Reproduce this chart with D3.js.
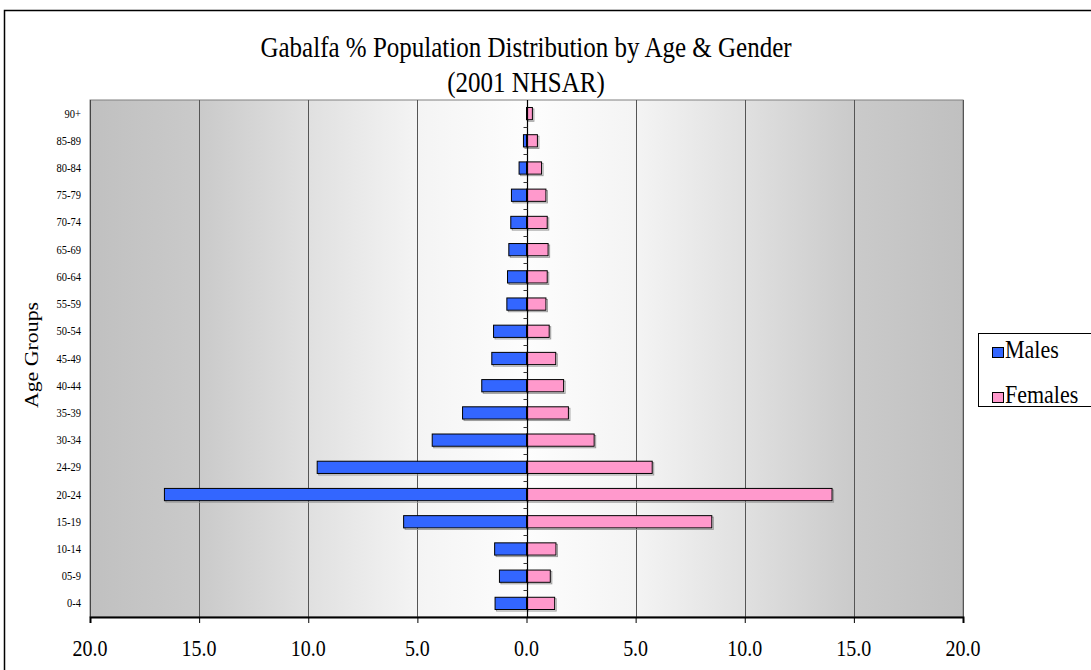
<!DOCTYPE html>
<html><head><meta charset="utf-8">
<script src="https://cdn.jsdelivr.net/npm/d3@7"></script>
<style>html,body{margin:0;padding:0;background:#fff;}svg{display:block;} text{font-family:'Liberation Serif','Times New Roman',serif;}</style>
</head><body>
<svg id="chart" width="1091" height="670"></svg>
<script>
const categories = ["0-4","05-9","10-14","15-19","20-24","24-29","30-34","35-39","40-44","45-49","50-54","55-59","60-64","65-69","70-74","75-79","80-84","85-89","90+"];
const males   = [1.44,1.24,1.46,5.63,16.59,9.59,4.32,2.93,2.05,1.59,1.51,0.90,0.87,0.81,0.72,0.69,0.34,0.14,0.0];
const females = [1.29,1.09,1.35,8.49,14.0,5.76,3.10,1.92,1.70,1.34,1.04,0.89,0.95,0.99,0.95,0.89,0.69,0.50,0.27];
const xTicks = [-20,-15,-10,-5,0,5,10,15,20];
const seriesNames = ["Males","Females"];
const seriesColors = ["#3366ff","#ff99cc"];
const titleLines = ["Gabalfa % Population Distribution by Age & Gender","(2001 NHSAR)"];

const svg = d3.select("#chart");
const L = 90, R = 963, T = 100, B = 617;
const SY = 1.15; // vertical stretch of the reference's text

function stext(parent, x, y, txt, size, anchor, rot){
  return parent.append("text")
    .attr("transform", rot ? `translate(${x},${y}) rotate(-90) scale(${SY},1)` : `translate(${x},${y}) scale(1,${SY})`)
    .attr("text-anchor", anchor || "start")
    .style("font-family","'Liberation Serif','Times New Roman',serif")
    .style("font-size", size+"px").attr("fill","#000").text(txt);
}

// outer frame
svg.append("rect").attr("x",4.5).attr("y",10.5).attr("width",1100).attr("height",700)
  .attr("fill","#fff").attr("stroke","#000").attr("stroke-width",1.5);

const defs = svg.append("defs");
const g = defs.append("linearGradient").attr("id","bg").attr("x1","0").attr("x2","1").attr("y1","0").attr("y2","0");
[[0,"#c0c0c0"],[0.125,"#cacaca"],[0.25,"#e0e0e0"],[0.375,"#f4f4f4"],[0.5,"#fdfdfd"],
 [0.625,"#f4f4f4"],[0.75,"#e0e0e0"],[0.875,"#cacaca"],[1,"#c0c0c0"]]
  .forEach(([o,c])=>g.append("stop").attr("offset",o).attr("stop-color",c));

const x = d3.scaleLinear().domain([-20,20]).range([L,R]);
const y = d3.scaleBand().domain(categories.slice().reverse()).range([T,B]).paddingInner(0.55).paddingOuter(0.275);

svg.append("rect").attr("x",L).attr("y",T).attr("width",R-L).attr("height",B-T)
  .attr("fill","url(#bg)").attr("stroke","#808080").attr("stroke-width",1);

// gridlines
svg.append("g").selectAll("line").data(xTicks.filter(t=>t!==0 && Math.abs(t)!==20)).join("line")
  .attr("x1",d=>Math.round(x(d))+0.5).attr("x2",d=>Math.round(x(d))+0.5).attr("y1",T).attr("y2",B)
  .attr("stroke","#555").attr("stroke-width",1);
svg.append("line").attr("x1",L+0.5).attr("x2",L+0.5).attr("y1",T).attr("y2",B).attr("stroke","#444");
svg.append("line").attr("x1",R+0.5).attr("x2",R+0.5).attr("y1",T).attr("y2",B).attr("stroke","#555");

// bars
const data = categories.map((c,i)=>({c, m:males[i], f:females[i]}));
const bars = svg.append("g");
function drawBars(key, sign, color){
  bars.selectAll(null).data(data.filter(d=>d[key]>0)).join("rect")
    .attr("x",d=> sign<0 ? x(-d[key])+1.5 : x(0)+1.5)
    .attr("y",d=>y(d.c)+1.5)
    .attr("width",d=>Math.abs(x(d[key])-x(0)))
    .attr("height",y.bandwidth())
    .attr("fill","none").attr("stroke","#999").attr("stroke-width",1);
  bars.selectAll(null).data(data.filter(d=>d[key]>0)).join("rect")
    .attr("x",d=> sign<0 ? x(-d[key]) : x(0))
    .attr("y",d=>y(d.c))
    .attr("width",d=>Math.abs(x(d[key])-x(0)))
    .attr("height",y.bandwidth())
    .attr("fill",color).attr("stroke","#000").attr("stroke-width",1);
}
drawBars("m",-1,seriesColors[0]);
drawBars("f",1,seriesColors[1]);

// center axis with ticks at category boundaries
const x0 = Math.round(x(0))+0.5;
svg.append("line").attr("x1",x0).attr("x2",x0).attr("y1",T).attr("y2",B).attr("stroke","#000").attr("stroke-width",1.2);
const step = y.step();
svg.append("g").selectAll("line").data(d3.range(1,categories.length)).join("line")
  .attr("x1",x0-4).attr("x2",x0).attr("y1",i=>Math.round(T+i*step)+0.5).attr("y2",i=>Math.round(T+i*step)+0.5)
  .attr("stroke","#333");

// bottom axis
const xAxis = d3.axisBottom(x).tickValues(xTicks).tickFormat("").tickSize(6);
const ax = svg.append("g").attr("transform",`translate(0,${B})`).call(xAxis);
ax.select(".domain").attr("stroke","#000").attr("stroke-width",2);
ax.selectAll(".tick line").attr("stroke","#000");
const xl = svg.append("g");
xTicks.forEach(t=> stext(xl, x(t), 656, Math.abs(t).toFixed(1), 20, "middle"));

// y labels
const yl = svg.append("g");
categories.forEach(c=> stext(yl, 81, y(c)+y.bandwidth()/2+4, c, 10.5, "end"));

stext(svg, 38, 355, "Age Groups", 19, "middle", true);

// title
titleLines.forEach((t,i)=> stext(svg, 526, 57+i*35, t, 25, "middle"));

// legend
const lg = svg.append("g");
lg.append("rect").attr("x",978.5).attr("y",333.5).attr("width",130).attr("height",73)
  .attr("fill","#fff").attr("stroke","#000");
seriesNames.forEach((n,i)=>{
  const yy = 358 + i*45;
  lg.append("rect").attr("x",992.5).attr("y",yy-10.5).attr("width",11).attr("height",10)
    .attr("fill",seriesColors[i]).attr("stroke","#000");
  stext(lg, 1005, yy, n, 22, "start");
});
</script>
</body></html>
